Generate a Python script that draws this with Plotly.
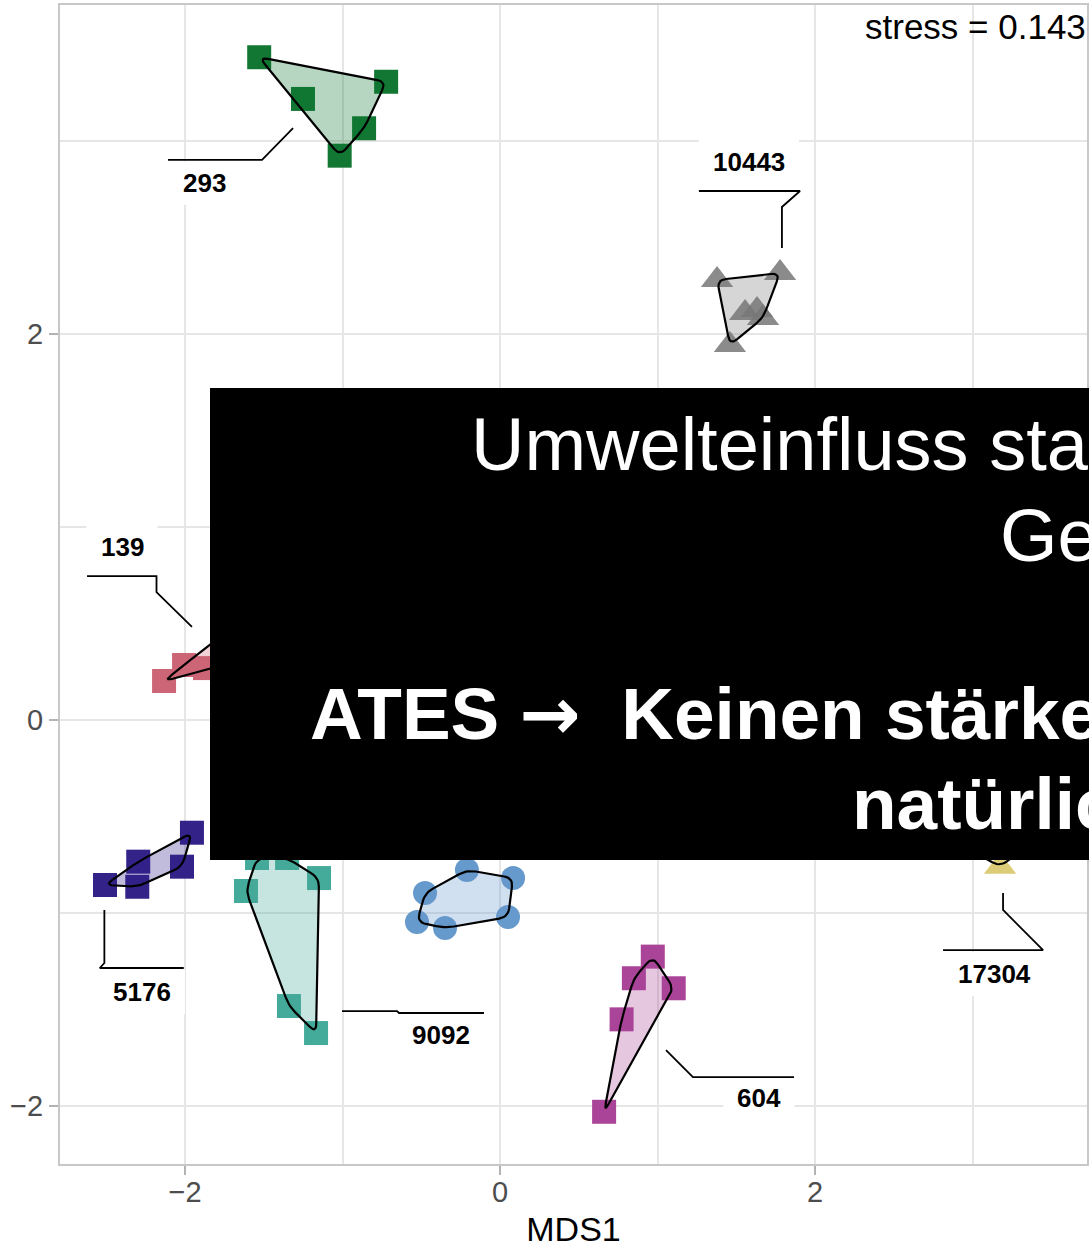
import numpy as np
import plotly.graph_objects as go

# ---------------- data: NMDS site scores ----------------
g293_x   = [-1.529, -0.723, -1.251, -0.863, -1.018]
g293_y   = [ 3.434,  3.307,  3.218,  3.066,  2.924]
g10443_x = [ 1.378,  1.778,  1.556,  1.632,  1.670,  1.460]
g10443_y = [ 2.280,  2.316,  2.109,  2.124,  2.083,  1.943]
g139_x   = [-2.133, -2.006, -1.873, -1.435, -1.181]
g139_y   = [ 0.202,  0.285,  0.269,  0.648,  0.409]
g5176_x  = [-2.508, -2.297, -2.303, -2.019, -1.956]
g5176_y  = [-0.855, -0.734, -0.864, -0.760, -0.584]
g9092_x  = [-1.613, -1.543, -1.352, -1.149, -1.340, -1.168]
g9092_y  = [-0.886, -0.715, -0.715, -0.819, -1.482, -1.622]
gblue_x  = [-0.476, -0.210,  0.083,  0.051, -0.349, -0.527]
gblue_y  = [-0.896, -0.777, -0.819, -1.021, -1.078, -1.047]
g604_x   = [ 0.970,  0.850,  1.103,  0.772,  0.661]
g604_y   = [-1.226, -1.338, -1.390, -1.551, -2.030]
g17304_x = [ 3.175,  2.724,  3.505,  3.200]
g17304_y = [-0.760, -0.554, -0.554, -0.350]

group_names = ["293", "10443", "139", "5176", "9092", "group 6", "604", "17304"]
group_x = [g293_x, g10443_x, g139_x, g5176_x, g9092_x, gblue_x, g604_x, g17304_x]
group_y = [g293_y, g10443_y, g139_y, g5176_y, g9092_y, gblue_y, g604_y, g17304_y]
group_colors = ["#117733", "#777777", "#CC6677", "#332288", "#44AA99",
                "#6699CC", "#AA4499", "#DDCC77"]
group_symbols = ["square", "triangle-up", "square", "square", "square",
                 "circle", "square", "triangle-up"]

# hull labels (ggforce-style annotations)
label_text = ["293", "10443", "139", "5176", "9092", "604", "17304"]
label_x = [-1.879, 1.581, -2.400, -2.273, -0.375, 1.644, 3.137]
label_y = [2.782, 2.891, 0.896, -1.409, -1.632, -1.959, -1.316]
label_line_y = [2.902, 2.741, 0.746, -1.285, -1.518, -1.850, -1.192]
leader_x = [[-2.108, -1.511, -1.314],
            [1.263, 1.905, 1.790, 1.790],
            [-2.622, -2.181, -2.181, -1.956],
            [-2.512, -2.512, -2.541, -2.008],
            [-1.003, -0.654, -0.641, -0.102],
            [1.054, 1.225, 1.867],
            [3.194, 3.194, 3.448, 2.813]]
leader_y = [[2.902, 2.902, 3.067],
            [2.741, 2.741, 2.658, 2.446],
            [0.746, 0.746, 0.663, 0.482],
            [-0.984, -1.259, -1.285, -1.285],
            [-1.508, -1.508, -1.518, -1.518],
            [-1.710, -1.850, -1.850],
            [-0.896, -0.984, -1.192, -1.192]]

stress_text = "stress = 0.143"
overlay_lines = ["Umwelteinfluss sta", "Ge",
                 "ATES <span style=\"font-family:DejaVu Sans\">\u2192</span>  Keinen st\u00e4rke",
                 "nat\u00fcrlic"]

# ---------------- layout geometry ----------------
W, H = 1089, 1248
ML, MR, MT, MB = 60, 2, 5, 84
X_RANGE = [-2.7937, 3.7270]
Y_RANGE = [-2.3005, 3.7047]
PW, PH = W - ML - MR, H - MT - MB
SX = PW / (X_RANGE[1] - X_RANGE[0])
SY = PH / (Y_RANGE[1] - Y_RANGE[0])
FONT = "Liberation Sans, Arial, sans-serif"


def rgba(hexcol, a):
    h = hexcol.lstrip("#")
    r, g, b = int(h[0:2], 16), int(h[2:4], 16), int(h[4:6], 16)
    return f"rgba({r},{g},{b},{a})"


def convex_hull(pts):
    pts = sorted(map(tuple, pts))
    if len(pts) < 3:
        return [np.array(p) for p in pts]

    def cross(o, a, b):
        return (a[0] - o[0]) * (b[1] - o[1]) - (a[1] - o[1]) * (b[0] - o[0])
    lower, upper = [], []
    for p in pts:
        while len(lower) >= 2 and cross(lower[-2], lower[-1], p) <= 0:
            lower.pop()
        lower.append(p)
    for p in reversed(pts):
        while len(upper) >= 2 and cross(upper[-2], upper[-1], p) <= 0:
            upper.pop()
        upper.append(p)
    return [np.array(p) for p in lower[:-1] + upper[:-1]]


def rounded_hull(xs, ys, r=9.0, n=8):
    P = np.column_stack([np.array(xs) * SX, np.array(ys) * SY])
    hull = convex_hull(P)
    m = len(hull)
    out = []
    for i in range(m):
        A, B, C = hull[i - 1], hull[i], hull[(i + 1) % m]
        d1, d2 = A - B, C - B
        l1, l2 = np.hypot(*d1), np.hypot(*d2)
        p1 = B + d1 * min(r / l1, 0.45)
        p2 = B + d2 * min(r / l2, 0.45)
        for t in np.linspace(0, 1, n):
            out.append((1 - t) ** 2 * p1 + 2 * (1 - t) * t * B + t ** 2 * p2)
    out.append(out[0])
    out = np.array(out)
    return out[:, 0] / SX, out[:, 1] / SY


fig = go.Figure()

# points
for name, xs, ys, col, sym in zip(group_names, group_x, group_y, group_colors, group_symbols):
    size = 28 if sym == "triangle-up" else 24
    op = 0.85 if col == "#777777" else 1.0
    fig.add_trace(go.Scatter(
        x=xs, y=ys, mode="markers", name=name, showlegend=False,
        marker=dict(symbol=sym, size=size, color=col, opacity=op, line=dict(width=0)),
        hoverinfo="skip"))

# hulls
for name, xs, ys, col in zip(group_names, group_x, group_y, group_colors):
    hx, hy = rounded_hull(xs, ys)
    fig.add_trace(go.Scatter(
        x=hx, y=hy, mode="lines", fill="toself", fillcolor=rgba(col, 0.3),
        line=dict(color="black", width=2.2), showlegend=False, hoverinfo="skip"))

# leader lines
for lx, ly in zip(leader_x, leader_y):
    fig.add_trace(go.Scatter(
        x=lx, y=ly, mode="lines", line=dict(color="black", width=1.8),
        showlegend=False, hoverinfo="skip"))

shapes = []
annotations = []
LABEL_FS = 26
for t, x, y, yl in zip(label_text, label_x, label_y, label_line_y):
    wpx = len(t) * 0.556 * LABEL_FS + 28
    half_h = abs(y - yl) - 1.6 / SY
    shapes.append(dict(type="rect", xref="x", yref="y", layer="between",
                       x0=x - wpx / 2 / SX, x1=x + wpx / 2 / SX,
                       y0=y - half_h, y1=y + half_h,
                       fillcolor="white", line=dict(width=0)))
    annotations.append(dict(x=x, y=y, xref="x", yref="y", text=f"<b>{t}</b>",
                            showarrow=False, xanchor="center", yanchor="middle",
                            font=dict(family=FONT, size=LABEL_FS, color="black")))

# stress
annotations.append(dict(x=(1087 - ML) / PW, y=(H - MB - 26.5) / PH, xref="paper", yref="paper",
                        text=stress_text, showarrow=False, xanchor="right", yanchor="middle",
                        borderpad=0,
                        font=dict(family=FONT, size=35, color="black")))

# black overlay box
shapes.append(dict(type="rect", xref="paper", yref="paper", layer="above",
                   x0=(210 - ML) / PW, x1=(1110 - ML) / PW,
                   y0=(H - MB - 860) / PH, y1=(H - MB - 388) / PH,
                   fillcolor="black", line=dict(width=0)))

# overlay text (left origin px, baseline px, bold)
ov_pos = [(469, 471, False), (998, 562, False), (308, 742, True), (850, 830, True)]
for txt, (ox, bl, bold) in zip(overlay_lines, ov_pos):
    fs = 73 if bold else 74
    bottom = bl + 0.212 * fs + 1
    annotations.append(dict(x=(ox - ML) / PW, y=(H - MB - bottom) / PH, xref="paper", yref="paper",
                            text=f"<b>{txt}</b>" if bold else txt, showarrow=False,
                            xanchor="left", yanchor="bottom", align="left",
                            font=dict(family=FONT, size=fs, color="white")))

axis_common = dict(
    showgrid=True, gridcolor="#e6e6e6", gridwidth=1.5, zeroline=False,
    showline=True, mirror=True, linecolor="#c8c8c8", linewidth=2,
    ticks="outside", ticklen=9, tickwidth=1.5, tickcolor="#b3b3b3",
    tickfont=dict(family=FONT, size=29, color="#4d4d4d"),
    dtick=2, tick0=0, automargin=False,
    minor=dict(dtick=1, tick0=0, showgrid=True, gridcolor="#e6e6e6", gridwidth=1.5, ticks=""),
)

fig.update_layout(
    width=W, height=H,
    margin=dict(l=ML, r=MR, t=MT, b=MB),
    paper_bgcolor="white", plot_bgcolor="white",
    xaxis=dict(range=X_RANGE, ticklabelstandoff=-8,
               title=dict(text="MDS1", standoff=10,
                          font=dict(family=FONT, size=34, color="black")), **axis_common),
    yaxis=dict(range=Y_RANGE, **axis_common),
    shapes=shapes, annotations=annotations,
    showlegend=False,
)

fig.write_html("out.html", config={"displayModeBar": False},
               post_script="document.body.style.margin='0';document.body.style.overflow='hidden';")
